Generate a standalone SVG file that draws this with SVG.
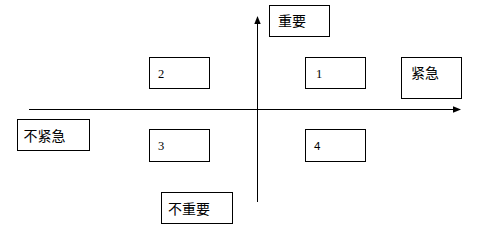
<svg xmlns="http://www.w3.org/2000/svg" width="480" height="238" viewBox="0 0 480 238">
<defs>
<style>
.box{fill:#fff;stroke:#000;stroke-width:1}
.cjk{font-family:"Noto Sans CJK SC","Liberation Sans",sans-serif;font-size:14px;fill:#000}
.num{font-family:"Liberation Serif",serif;font-size:12.5px;fill:#000}
.nums{font-family:"Liberation Sans",sans-serif;font-size:11.5px;fill:#000}
.ax{stroke:#000;stroke-width:1;fill:none}
</style>
<marker id="ah" viewBox="0 0 8 8" refX="7" refY="4" markerWidth="8" markerHeight="8" markerUnits="userSpaceOnUse" orient="auto">
<path d="M0,0.8 L8,4 L0,7.2 Z" fill="#000"/>
</marker>
</defs>
<rect width="480" height="238" fill="#fff"/>
<g id="connectors">
<line class="ax" x1="29" y1="109.5" x2="460" y2="109.5" marker-end="url(#ah)"/>
<line class="ax" x1="257.5" y1="202" x2="257.5" y2="17" marker-end="url(#ah)"/>
</g>
<g id="n-important"><rect class="box" x="269.5" y="5.5" width="60" height="31"/><text class="cjk" x="278" y="26">重要</text></g>
<g id="n-urgent"><rect class="box" x="401.5" y="57.5" width="60" height="41"/><text class="cjk" x="411" y="78">紧急</text></g>
<g id="n-noturgent"><rect class="box" x="17.5" y="119.5" width="72" height="31"/><text class="cjk" x="23.5" y="140.5">不紧急</text></g>
<g id="n-notimportant"><rect class="box" x="161.5" y="192.5" width="71" height="31"/><text class="cjk" x="168" y="214">不重要</text></g>
<g id="q2"><rect class="box" x="149.5" y="57.5" width="60" height="31"/><text class="num" x="158" y="78">2</text></g>
<g id="q1"><rect class="box" x="305.5" y="57.5" width="60" height="31"/><text class="num" x="316" y="78">1</text></g>
<g id="q3"><rect class="box" x="149.5" y="129.5" width="60" height="32"/><text class="num" x="158" y="150">3</text></g>
<g id="q4"><rect class="box" x="305.5" y="129.5" width="60" height="32"/><text class="nums" x="314" y="150">4</text></g>
</svg>
